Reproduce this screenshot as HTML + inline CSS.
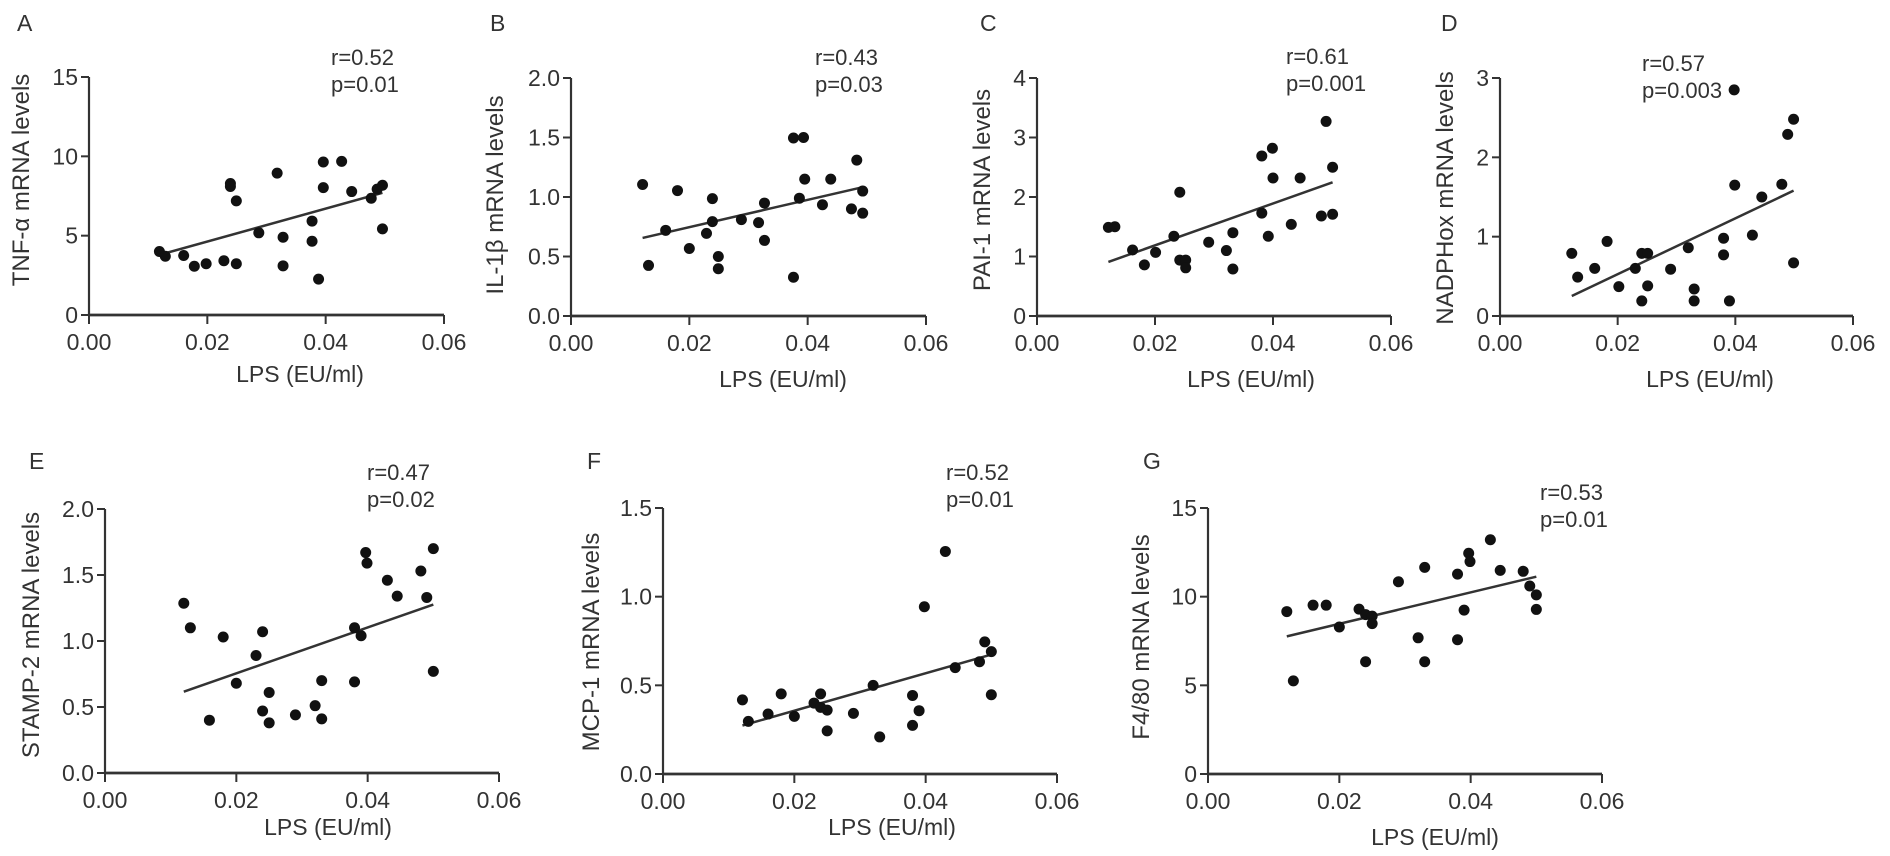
<!DOCTYPE html>
<html><head><meta charset="utf-8">
<style>
html,body{margin:0;padding:0;background:#fff;}
svg{display:block;font-family:"Liberation Sans",Arial,sans-serif;}
</style></head>
<body>
<svg id="fig" width="1890" height="856" viewBox="0 0 1890 856" xmlns="http://www.w3.org/2000/svg"></svg>
<script>
// Panel A: TNF-alpha
const aX=[0.0119,0.0129,0.016,0.0178,0.0198,0.0228,0.0239,0.0239,0.0249,0.0249,0.0287,0.0318,0.0328,0.0328,0.0377,0.0377,0.0388,0.0396,0.0396,0.0427,0.0444,0.0477,0.0487,0.0496,0.0496];
const aY=[4.0,3.7,3.75,3.07,3.23,3.42,8.29,8.1,3.23,7.19,5.18,8.94,4.9,3.1,5.92,4.65,2.26,9.64,8.03,9.68,7.78,7.36,7.93,8.18,5.43];
// Panel B: IL-1beta
const bX=[0.0121,0.0131,0.016,0.018,0.020,0.0229,0.0239,0.0239,0.0249,0.0249,0.0288,0.0317,0.0327,0.0327,0.0376,0.0376,0.0393,0.0386,0.0395,0.0425,0.0439,0.0474,0.0483,0.0493,0.0493];
const bY=[1.105,0.425,0.72,1.054,0.567,0.694,0.986,0.793,0.5,0.397,0.81,0.785,0.949,0.635,0.326,1.496,1.50,0.99,1.15,0.935,1.15,0.90,1.31,1.05,0.864];
// Panel C: PAI-1
const cX=[0.0121,0.0132,0.0162,0.0182,0.0201,0.0232,0.0242,0.0242,0.0252,0.0252,0.0291,0.0321,0.0332,0.0332,0.0381,0.0381,0.0392,0.0399,0.0400,0.0431,0.0446,0.0482,0.049,0.0501,0.0501];
const cY=[1.49,1.50,1.11,0.86,1.07,1.34,2.08,0.94,0.94,0.81,1.24,1.10,1.40,0.79,2.69,1.73,1.34,2.82,2.32,1.54,2.32,1.68,3.27,2.50,1.71];
// Panel D: NADPHox
const dX=[0.0122,0.0132,0.0161,0.0182,0.0202,0.023,0.0241,0.0241,0.0251,0.0251,0.029,0.032,0.033,0.033,0.038,0.038,0.039,0.0398,0.0399,0.0429,0.0445,0.0479,0.0489,0.0499,0.0499];
const dY=[0.79,0.49,0.60,0.94,0.37,0.60,0.79,0.19,0.79,0.38,0.59,0.86,0.34,0.19,0.98,0.77,0.19,2.85,1.65,1.02,1.50,1.66,2.29,2.48,0.67];
// Panel E: STAMP-2
const eX=[0.012,0.013,0.0159,0.018,0.020,0.023,0.024,0.024,0.025,0.025,0.029,0.032,0.033,0.033,0.038,0.038,0.039,0.0397,0.0399,0.043,0.0445,0.0481,0.049,0.050,0.050];
const eY=[1.286,1.10,0.40,1.03,0.68,0.89,1.07,0.47,0.61,0.38,0.44,0.51,0.70,0.41,0.69,1.10,1.04,1.67,1.59,1.46,1.34,1.53,1.33,1.70,0.77];
// Panel F: MCP-1
const fX=[0.0121,0.013,0.016,0.018,0.020,0.023,0.024,0.024,0.025,0.025,0.029,0.032,0.033,0.038,0.038,0.039,0.0398,0.043,0.0445,0.0482,0.049,0.050,0.050];
const fY=[0.418,0.297,0.338,0.452,0.325,0.40,0.452,0.376,0.36,0.243,0.342,0.50,0.209,0.443,0.274,0.357,0.943,1.255,0.60,0.633,0.745,0.69,0.447];
// Panel G: F4/80
const gX=[0.012,0.013,0.016,0.018,0.020,0.023,0.024,0.024,0.025,0.025,0.029,0.032,0.033,0.033,0.038,0.038,0.039,0.0397,0.0399,0.043,0.0445,0.048,0.049,0.050,0.050];
const gY=[9.16,5.25,9.52,9.52,8.29,9.3,8.99,6.33,8.9,8.48,10.84,7.68,11.65,6.33,11.27,7.57,9.24,12.45,11.98,13.21,11.48,11.43,10.6,10.1,9.28];
// Tick values
const xTicks=[0,0.02,0.04,0.06];
const xTickLabels=["0.00","0.02","0.04","0.06"];
const ticks15=[0,5,10,15];
const ticks2=[0,0.5,1.0,1.5,2.0];
const ticks4=[0,1,2,3,4];
const ticks3=[0,1,2,3];
const ticks15b=[0,0.5,1.0,1.5];

const NS="http://www.w3.org/2000/svg";
const svg=document.getElementById('fig');
function mk(tag,attrs,parent){const e=document.createElementNS(NS,tag);for(const k in attrs)e.setAttribute(k,attrs[k]);(parent||svg).appendChild(e);return e;}

const panels=[
 {id:'a',letter:'A',xs:aX,ys:aY,yt:ticks15,dec:0,ymax:15,x0:89,x1:444,y0:315,y1:77,lx:17,ly:31,yt_t:"TNF-α mRNA levels",tx:21,ty:180,r:"r=0.52",p:"p=0.01",rx:331,ry:65,xl:300,xly:382},
 {id:'b',letter:'B',xs:bX,ys:bY,yt:ticks2,dec:1,ymax:2,x0:571,x1:926,y0:316,y1:78,lx:490,ly:31,yt_t:"IL-1β mRNA levels",tx:495,ty:195,r:"r=0.43",p:"p=0.03",rx:815,ry:65,xl:783,xly:387},
 {id:'c',letter:'C',xs:cX,ys:cY,yt:ticks4,dec:0,ymax:4,x0:1037,x1:1391,y0:316,y1:78,lx:980,ly:31,yt_t:"PAI-1 mRNA levels",tx:982,ty:190,r:"r=0.61",p:"p=0.001",rx:1286,ry:64,xl:1251,xly:387},
 {id:'d',letter:'D',xs:dX,ys:dY,yt:ticks3,dec:0,ymax:3,x0:1500,x1:1853,y0:316,y1:78,lx:1441,ly:31,yt_t:"NADPHox mRNA levels",tx:1445,ty:198,r:"r=0.57",p:"p=0.003",rx:1642,ry:71,xl:1710,xly:387},
 {id:'e',letter:'E',xs:eX,ys:eY,yt:ticks2,dec:1,ymax:2,x0:105,x1:499,y0:773,y1:509,lx:29,ly:469,yt_t:"STAMP-2 mRNA levels",tx:31,ty:635,r:"r=0.47",p:"p=0.02",rx:367,ry:480,xl:328,xly:835},
 {id:'f',letter:'F',xs:fX,ys:fY,yt:ticks15b,dec:1,ymax:1.5,x0:663,x1:1057,y0:774,y1:508,lx:587,ly:469,yt_t:"MCP-1 mRNA levels",tx:591,ty:642,r:"r=0.52",p:"p=0.01",rx:946,ry:480,xl:892,xly:835},
 {id:'g',letter:'G',xs:gX,ys:gY,yt:ticks15,dec:0,ymax:15,x0:1208,x1:1602,y0:774,y1:508,lx:1143,ly:469,yt_t:"F4/80 mRNA levels",tx:1141,ty:637,r:"r=0.53",p:"p=0.01",rx:1540,ry:500,xl:1435,xly:845}
];

panels.forEach(P=>{
  const g=mk('g',{});
  
  
  const sx=v=>P.x0+(v/0.06)*(P.x1-P.x0);
  const sy=v=>P.y0-(v/P.ymax)*(P.y0-P.y1);
  const lab=mk('text',{x:P.lx,y:P.ly,'font-size':23,fill:'#333'},g);lab.textContent=P.letter;
  
  
  const ya=mk('line',{x1:P.x0,y1:P.y1,x2:P.x0,y2:P.y0+1,stroke:'#333','stroke-width':2.2},g);
  
  
  const xa=mk('line',{x1:P.x0-1,y1:P.y0,x2:P.x1,y2:P.y0,stroke:'#333','stroke-width':2.8},g);
  
  
  P.yt.forEach(v=>{
    const y=sy(v);
    mk('line',{x1:P.x0-8,y1:y,x2:P.x0,y2:y,stroke:'#333','stroke-width':2},g);
    const t=mk('text',{x:P.x0-11,y:y+8,'font-size':23,'text-anchor':'end',fill:'#333'},g);
    t.textContent=v.toFixed(P.dec);
    
    
  });
  xTicks.forEach((v,i)=>{
    const x=sx(v);
    mk('line',{x1:x,y1:P.y0,x2:x,y2:P.y0+9,stroke:'#333','stroke-width':2},g);
    const t=mk('text',{x:x,y:P.y0+35,'font-size':23,'text-anchor':'middle',fill:'#333'},g);
    t.textContent=xTickLabels[i];
    
    
  });
  const xt=mk('text',{x:P.xl,y:P.xly,'font-size':23,'text-anchor':'middle',fill:'#333'},g);
  xt.textContent='LPS (EU/ml)';
  
  
  const yt=mk('text',{x:0,y:0,'font-size':24,'text-anchor':'middle',fill:'#333',transform:`translate(${P.tx+8},${P.ty}) rotate(-90)`},g);
  yt.textContent=P.yt_t;
  
  
  const rt=mk('text',{x:P.rx,y:P.ry,'font-size':22,fill:'#333'},g);rt.textContent=P.r;
  
  
  const pt=mk('text',{x:P.rx,y:P.ry+27,'font-size':22,fill:'#333'},g);pt.textContent=P.p;
  
  
  const n=P.xs.length;let mx=0,my=0;for(let i=0;i<n;i++){mx+=P.xs[i];my+=P.ys[i];}mx/=n;my/=n;
  let sxy=0,sxx=0;for(let i=0;i<n;i++){sxy+=(P.xs[i]-mx)*(P.ys[i]-my);sxx+=(P.xs[i]-mx)**2;}
  const b=sxy/sxx,a=my-b*mx;const xmin=Math.min(...P.xs),xmax=Math.max(...P.xs);
  const rl=mk('line',{x1:sx(xmin),y1:sy(a+b*xmin),x2:sx(xmax),y2:sy(a+b*xmax),stroke:'#333','stroke-width':2.5},g);
  
  
  for(let i=0;i<n;i++){
    const c=mk('circle',{cx:sx(P.xs[i]),cy:sy(P.ys[i]),r:5.5,fill:'#111'},g);
    
    
  }
});
</script>
</body></html>
